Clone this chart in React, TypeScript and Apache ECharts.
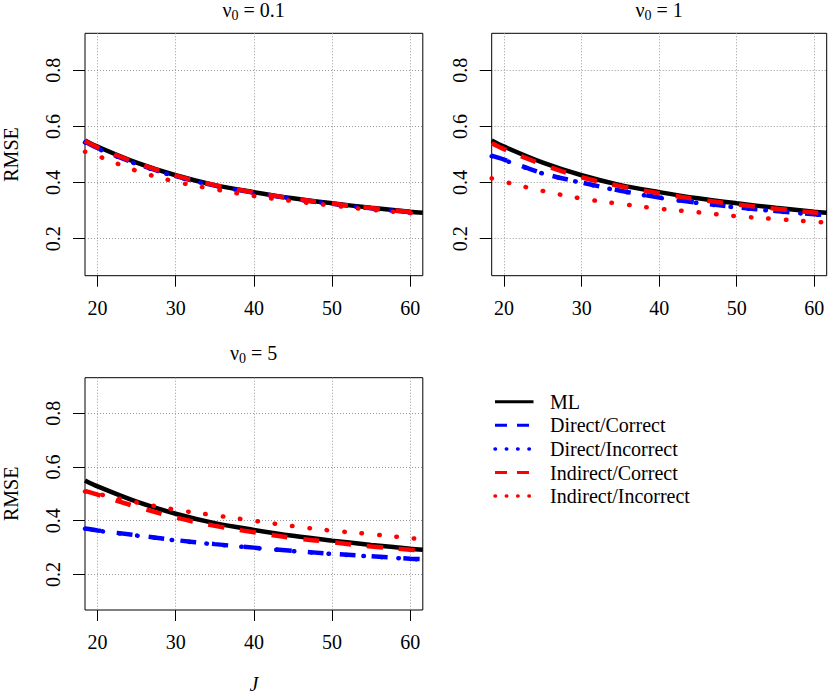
import React, { useEffect, useRef } from "react";
import * as echarts from "echarts";

// ---- data ----
const J = [18.4, 20, 25, 30, 35, 40, 45, 50, 55, 60, 61.6];
const xTicks = [20, 30, 40, 50, 60];
const yTicks = [0.2, 0.4, 0.6, 0.8];
const seriesNames = ["ML", "Direct/Correct", "Direct/Incorrect", "Indirect/Correct", "Indirect/Incorrect"];
const panelNu = ["0.1", "1", "5"];

const mlValues = [0.55, 0.528, 0.471, 0.426, 0.391, 0.366, 0.344, 0.326, 0.31, 0.296, 0.292];

// panel 1: nu0 = 0.1
const p1DirectCorrect = [0.545, 0.523, 0.467, 0.423, 0.389, 0.364, 0.342, 0.324, 0.308, 0.294, 0.29];
const p1DirectIncorrect = [0.543, 0.521, 0.466, 0.422, 0.389, 0.364, 0.342, 0.324, 0.308, 0.294, 0.29];
const p1IndirectCorrect = [0.548, 0.526, 0.47, 0.425, 0.391, 0.365, 0.343, 0.325, 0.309, 0.295, 0.291];
const p1IndirectIncorrect = [0.51, 0.495, 0.442, 0.403, 0.376, 0.352, 0.334, 0.318, 0.303, 0.291, 0.288];

// panel 2: nu0 = 1
const p2DirectCorrect = [0.496, 0.482, 0.433, 0.4, 0.371, 0.347, 0.328, 0.312, 0.299, 0.287, 0.284];
const p2DirectIncorrect = [0.494, 0.48, 0.432, 0.399, 0.37, 0.346, 0.327, 0.311, 0.298, 0.286, 0.283];
const p2IndirectCorrect = [0.54, 0.519, 0.464, 0.419, 0.387, 0.362, 0.34, 0.322, 0.307, 0.293, 0.29];
const p2IndirectIncorrect = [0.415, 0.403, 0.37, 0.343, 0.324, 0.307, 0.294, 0.28, 0.27, 0.26, 0.258];

// panel 3: nu0 = 5
const p3DirectCorrect = [0.371, 0.364, 0.346, 0.328, 0.313, 0.3, 0.288, 0.277, 0.268, 0.259, 0.257];
const p3DirectIncorrect = [0.37, 0.363, 0.345, 0.327, 0.312, 0.299, 0.287, 0.276, 0.267, 0.258, 0.256];
const p3IndirectCorrect = [0.511, 0.497, 0.452, 0.412, 0.381, 0.357, 0.336, 0.32, 0.304, 0.292, 0.289];
const p3IndirectIncorrect = [0.509, 0.5, 0.468, 0.441, 0.42, 0.4, 0.38, 0.363, 0.35, 0.335, 0.332];

const panels = [
  [mlValues, p1DirectCorrect, p1DirectIncorrect, p1IndirectCorrect, p1IndirectIncorrect],
  [mlValues, p2DirectCorrect, p2DirectIncorrect, p2IndirectCorrect, p2IndirectIncorrect],
  [mlValues, p3DirectCorrect, p3DirectIncorrect, p3IndirectCorrect, p3IndirectIncorrect],
];

// ---- styles ----
const FONT = '"Liberation Serif", "Times New Roman", serif';
const BLUE = "#0000ff";
const RED = "#ff0000";
const lineStyles: any[] = [
  { color: "#000000", width: 4.5, type: "solid" },
  { color: BLUE, width: 4.5, type: [16, 16], cap: "butt" },
  { color: BLUE, width: 4.5, type: [0.5, 17], cap: "round" },
  { color: RED, width: 4.5, type: [16, 16], cap: "butt" },
  { color: RED, width: 4.5, type: [0.5, 17], cap: "round" },
];
const legendStyles: any[] = [
  { stroke: "#000000", lineWidth: 3, lineDash: null, lineCap: "butt" },
  { stroke: BLUE, lineWidth: 3, lineDash: [12, 10], lineCap: "butt" },
  { stroke: BLUE, lineWidth: 3.5, lineDash: [0.5, 10.8], lineCap: "round" },
  { stroke: RED, lineWidth: 3, lineDash: [12, 10], lineCap: "butt" },
  { stroke: RED, lineWidth: 3.5, lineDash: [0.5, 10.8], lineCap: "round" },
];

const grids = [
  { left: 84.3, top: 33.3, width: 338.5, height: 242.4 },
  { left: 491.7, top: 33.3, width: 335, height: 242.4 },
  { left: 84.3, top: 377.7, width: 338.5, height: 232.3 },
];

export default function App() {
  const ref = useRef<HTMLDivElement>(null);
  useEffect(() => {
    document.body.style.margin = "0";
    const chart = echarts.init(ref.current!, null, { renderer: "svg" });

    const xAxes = grids.map((_, i) => ({
      type: "value",
      gridIndex: i,
      min: 18.4,
      max: 61.6,
      name: i === 2 ? "J" : "",
      nameLocation: "middle",
      nameGap: 64,
      nameTextStyle: { fontFamily: FONT, fontSize: 20, fontStyle: "italic", color: "#000" },
      axisLine: { show: false },
      axisTick: { show: true, customValues: xTicks, length: 11, lineStyle: { color: "#000", width: 1 } },
      axisLabel: { customValues: xTicks, fontFamily: FONT, fontSize: 20, color: "#000", margin: 22 },
      splitLine: { show: true, lineStyle: { color: "#999999", type: [1, 2], width: 1 } },
    }));
    const yAxes = grids.map((_, i) => ({
      type: "value",
      gridIndex: i,
      min: 0.068,
      max: 0.932,
      name: i === 1 ? "" : "RMSE",
      nameLocation: "middle",
      nameGap: 64,
      nameRotate: 90,
      nameTextStyle: { fontFamily: FONT, fontSize: 20, color: "#000" },
      axisLine: { show: false },
      axisTick: { show: true, customValues: yTicks, length: 12, lineStyle: { color: "#000", width: 1 } },
      axisLabel: {
        customValues: yTicks,
        rotate: 90,
        fontFamily: FONT,
        fontSize: 20,
        color: "#000",
        margin: 22,
        formatter: (v: number) => v.toFixed(1),
      },
      splitLine: { show: true, lineStyle: { color: "#999999", type: [1, 2], width: 1 } },
    }));

    const series: any[] = [];
    panels.forEach((panel, i) => {
      panel.forEach((vals, s) => {
        series.push({
          type: "line",
          name: seriesNames[s],
          xAxisIndex: i,
          yAxisIndex: i,
          data: J.map((x, k) => [x, vals[k]]),
          symbol: "none",
          showSymbol: false,
          smooth: 0.35,
          clip: true,
          silent: true,
          lineStyle: lineStyles[s],
        });
      });
    });

    const titleY = [10, 10, 353];
    const graphics: any[] = panelNu.map((nu, i) => ({
      type: "text",
      x: grids[i].left + grids[i].width / 2,
      y: titleY[i],
      style: {
        text: "{a|ν}{b|0}{a| = " + nu + "}",
        align: "center",
        textAlign: "center",
        verticalAlign: "middle",
        textVerticalAlign: "middle",
        rich: {
          a: { fontFamily: FONT, fontSize: 20, fill: "#000", lineHeight: 24, verticalAlign: "middle" },
          b: { fontFamily: FONT, fontSize: 14, fill: "#000", lineHeight: 24, verticalAlign: "bottom", padding: [0, 0, 0, 0] },
        },
      },
    }));
    const legendTop = 401.7;
    const legendStep = 23.6;
    seriesNames.forEach((name, k) => {
      const y = legendTop + k * legendStep;
      graphics.push({
        type: "line",
        shape: { x1: 495, y1: y, x2: 533.5, y2: y },
        style: { ...legendStyles[k] },
      });
      graphics.push({
        type: "text",
        x: 550,
        y: y,
        style: {
          text: name,
          fontFamily: FONT,
          fontSize: 20,
          fill: "#000",
          align: "left",
          textAlign: "left",
          verticalAlign: "middle",
          textVerticalAlign: "middle",
        },
      });
    });

    chart.setOption({
      animation: false,
      backgroundColor: "#fff",
      grid: grids.map((g) => ({ ...g, show: true, borderColor: "#000", borderWidth: 1, backgroundColor: "transparent", containLabel: false })),
      xAxis: xAxes,
      yAxis: yAxes,
      series,
      graphic: graphics,
    } as any);

    return () => chart.dispose();
  }, []);
  return <div ref={ref} style={{ width: 829, height: 695 }} />;
}
